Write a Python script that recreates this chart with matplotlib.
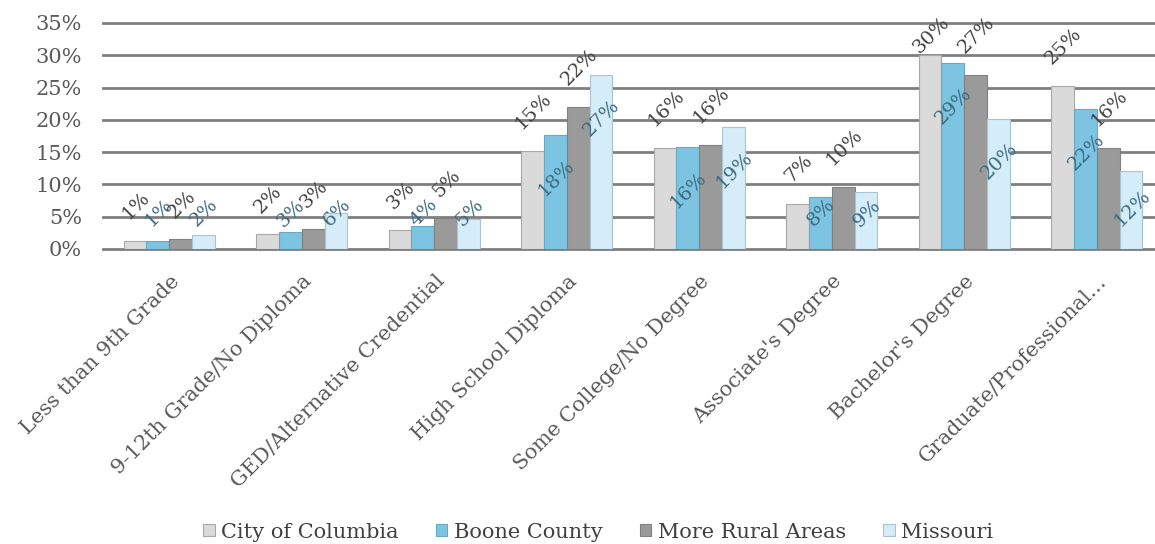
import numpy as np
import matplotlib
matplotlib.use("Agg")
import matplotlib.pyplot as plt
import matplotlib.transforms as mtransforms

# education level shares (%)
categories = [
    "Less than 9th Grade",
    "9-12th Grade/No Diploma",
    "GED/Alternative Credential",
    "High School Diploma",
    "Some College/No Degree",
    "Associate's Degree",
    "Bachelor's Degree",
    "Graduate/Professional...",
]
columbia = [1.3, 2.3, 2.9, 15.2, 15.6, 7.0, 30.0, 25.2]
boone = [1.3, 2.6, 3.6, 17.7, 15.8, 8.0, 28.8, 21.7]
rural = [1.5, 3.1, 4.8, 22.0, 16.1, 9.6, 27.0, 15.6]
missouri = [2.1, 5.6, 4.6, 27.0, 18.9, 8.9, 20.2, 12.1]

series_names = ["City of Columbia", "Boone County", "More Rural Areas", "Missouri"]
yticks = [0, 5, 10, 15, 20, 25, 30, 35]

colors = ["#dadada", "#7cc4e1", "#9a9a9a", "#d5edf8"]
edge_colors = ["#a8a8a8", "#6aa9c2", "#808080", "#a9c4d0"]
label_colors = ["#404040", "#3c6a80", "#404040", "#3c6a80"]
inside = [False, True, False, True]

plt.rcParams["font.family"] = ["DejaVu Serif"]

W, H = 1155, 544
fig = plt.figure(figsize=(W / 100, H / 100), dpi=100)
ax = fig.add_axes([103 / W, 295 / H, 1060 / W, 226 / H])

x = np.arange(len(categories))
bw = 0.172
data = [columbia, boone, rural, missouri]

ax.set_xlim(-0.5, len(categories) - 0.5)
ax.set_ylim(0, 35)

for i, vals in enumerate(data):
    ax.bar(x + (i - 1.5) * bw, vals, bw, color=colors[i],
           edgecolor=edge_colors[i], linewidth=0.8,
           label=series_names[i], zorder=3)

# data labels, rotated like the Excel chart (outside end / inside end)
fig.canvas.draw()
y0_px = ax.transData.transform((0, 0))[1]
max_center = H - 35  # keep labels inside the chart area
for i, vals in enumerate(data):
    for xi, v in zip(x + (i - 1.5) * bw, vals):
        txt = f"{int(v + 0.5)}%"
        n = len(txt)
        top_disp = ax.transData.transform((0, v))[1]
        if inside[i]:
            off = -(25 + 18 * (n - 2))
            min_center = 36 + 5 * (n - 2)
            if top_disp - y0_px + off < min_center:
                off = min_center - (top_disp - y0_px)
        else:
            off = 35 + 5 * (n - 2)
            if top_disp + off > max_center:
                off = max_center - top_disp
        ax.annotate(txt, (xi, v), xytext=(1, off), textcoords="offset pixels",
                    ha="center", va="center", rotation=45, fontsize=14,
                    color=label_colors[i], zorder=5)

ax.set_yticks(yticks)
ax.set_yticklabels([f"{t}%" for t in yticks], fontsize=15, color="#595959")
ax.tick_params(axis="y", length=0, pad=15)

ax.set_xticks(x)
ax.set_xticklabels(categories, rotation=45, ha="right", va="center",
                   rotation_mode="anchor", fontsize=15, color="#595959")
ax.tick_params(axis="x", length=0, pad=21)
shift = mtransforms.ScaledTranslation(0.07, 0, fig.dpi_scale_trans)
for lab in ax.get_xticklabels():
    lab.set_transform(lab.get_transform() + shift)

ax.set_axisbelow(True)
ax.grid(axis="y", color="#7f7f7f", linewidth=2)
for gl in ax.get_ygridlines():
    gl.set_clip_on(False)
for s in ax.spines.values():
    s.set_visible(False)

leg = fig.legend(loc="center", bbox_to_anchor=(0.518, 12 / H), ncol=4,
                 frameon=False, fontsize=15, handlelength=0.55, handleheight=0.55,
                 handletextpad=0.3, columnspacing=1.8)
for t in leg.get_texts():
    t.set_color("#404040")

fig.savefig("out.png", dpi=100)
